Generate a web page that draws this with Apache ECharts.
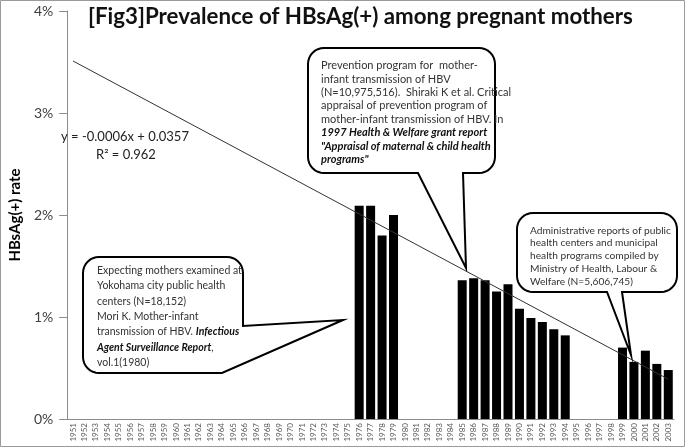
<!DOCTYPE html>
<html>
<head>
<meta charset="utf-8">
<script src="https://cdn.jsdelivr.net/npm/echarts@6/dist/echarts.min.js"></script>
<style>
html,body{margin:0;padding:0;background:#fff;}
#c{width:685px;height:447px;}
</style>
</head>
<body>
<div id="c"></div>
<script>
var years = ['1951','1952','1953','1954','1955','1956','1957','1958','1959','1960',
  '1961','1962','1963','1964','1965','1966','1967','1968','1969','1970',
  '1971','1972','1973','1974','1975','1976','1977','1978','1979','1980',
  '1981','1982','1983','1984','1985','1986','1987','1988','1989','1990',
  '1991','1992','1993','1994','1995','1996','1997','1998','1999','2000',
  '2001','2002','2003'];
var barYears = ['1976','1977','1978','1979',
  '1985','1986','1987','1988','1989','1990','1991','1992','1993','1994',
  '1999','2000','2001','2002','2003'];
var barValues = [2.09, 2.09, 1.80, 2.00,
  1.36, 1.38, 1.36, 1.25, 1.32, 1.08, 0.99, 0.95, 0.88, 0.82,
  0.70, 0.56, 0.67, 0.54, 0.48];
var trendYears = ['1951', '2003'];
var trendValues = [3.51, 0.39];
var yTicks = [0, 1, 2, 3, 4];

var FONT = 'Lato';
var barData = years.map(function (y) {
  var i = barYears.indexOf(y);
  return i >= 0 ? barValues[i] : null;
});
var trendData = years.map(function (y) {
  var i = trendYears.indexOf(y);
  return i >= 0 ? trendValues[i] : null;
});

function arc(pts, cx, cy, r, a0, a1) {
  var n = 8;
  for (var k = 0; k <= n; k++) {
    var a = (a0 + (a1 - a0) * k / n) * Math.PI / 180;
    pts.push([cx + r * Math.cos(a), cy + r * Math.sin(a)]);
  }
}
function bubbleBottom(x, y, w, h, r, p1, p2, tx, ty) {
  var pts = [];
  arc(pts, x + r, y + r, r, 180, 270);
  arc(pts, x + w - r, y + r, r, 270, 360);
  arc(pts, x + w - r, y + h - r, r, 0, 90);
  pts.push([p2, y + h], [tx, ty], [p1, y + h]);
  arc(pts, x + r, y + h - r, r, 90, 180);
  return pts;
}
function bubbleRight(x, y, w, h, r, py, tx, ty, bx) {
  var pts = [];
  arc(pts, x + r, y + r, r, 180, 270);
  arc(pts, x + w - r, y + r, r, 270, 360);
  pts.push([x + w, py], [tx, ty], [bx, y + h]);
  arc(pts, x + r, y + h - r, r, 90, 180);
  return pts;
}
function bubbleText(x, y, lines, lh, fs) {
  return {
    type: 'text', x: x, y: y, z: 20,
    style: {
      text: lines.join('\n'),
      rich: {
        n: {fontFamily: FONT, fontSize: fs, fill: '#333', lineHeight: lh},
        b: {fontFamily: FONT, fontSize: fs, fill: '#111', fontWeight: 'bold', fontStyle: 'italic', lineHeight: lh}
      },
      fill: '#333', fontFamily: FONT, fontSize: fs
    }
  };
}

var chart = echarts.init(document.getElementById('c'), null, {renderer: 'canvas'});
chart.setOption({
  animation: false,
  backgroundColor: '#fff',
  grid: {left: 57, right: 11, top: 11, bottom: 28, containLabel: false},
  xAxis: {
    type: 'category', data: years,
    axisLine: {lineStyle: {color: '#8c8c8c', width: 1}},
    axisTick: {show: false},
    axisLabel: {interval: 0, rotate: 90, fontSize: 8, color: '#595959', margin: 4, fontFamily: FONT}
  },
  yAxis: {
    type: 'value', min: yTicks[0], max: yTicks[yTicks.length - 1], interval: 1,
    name: 'HBsAg(+) rate', nameLocation: 'middle', nameGap: 32,
    nameTextStyle: {fontFamily: FONT, fontWeight: 'bold', fontSize: 15, color: '#000'},
    axisLine: {show: true, lineStyle: {color: '#8c8c8c'}},
    axisTick: {show: true, length: 8, lineStyle: {color: '#8c8c8c'}},
    splitLine: {show: false},
    axisLabel: {formatter: '{value}%', fontSize: 14, color: '#404040', margin: 14, fontFamily: FONT}
  },
  series: [
    {
      type: 'bar', data: barData, barWidth: 9,
      itemStyle: {color: '#000'}, z: 2
    },
    {
      type: 'line', data: trendData, connectNulls: true, showSymbol: false, symbol: 'none',
      lineStyle: {color: '#333', width: 1}, z: 3
    }
  ],
  graphic: [
    {type: 'rect', shape: {x: 0.5, y: 0.5, width: 684, height: 446},
     style: {fill: 'none', stroke: '#9a9a9a', lineWidth: 1}, z: 0, silent: true},
    {type: 'text', x: 88, y: 6, z: 20,
     style: {text: '[Fig3]Prevalence of HBsAg(+) among pregnant mothers',
       fontFamily: FONT, fontWeight: 'bold', fontSize: 22.3, fill: '#111'}},
    {type: 'text', x: 61, y: 130, z: 20,
     style: {text: 'y = -0.0006x + 0.0357', fontFamily: FONT, fontSize: 13, fill: '#222'}},
    {type: 'text', x: 96, y: 148, z: 20,
     style: {text: 'R² = 0.962', fontFamily: FONT, fontSize: 13, fill: '#222'}},
    {type: 'polygon', z: 15,
     shape: {points: bubbleRight(83, 257, 160, 116, 16, 326, 343, 320, 222)},
     style: {fill: '#fff', stroke: '#000', lineWidth: 2}},
    bubbleText(97, 263, [
      '{n|Expecting mothers examined at}',
      '{n|Yokohama city public health}',
      '{n|centers (N=18,152)}',
      '{n|Mori K. Mother-infant}',
      '{n|transmission of HBV. }{b|Infectious}',
      '{b|Agent Surveillance Report}{n|,}',
      '{n|vol.1(1980)}'
    ], 15.3, 10.5),
    {type: 'polygon', z: 15,
     shape: {points: bubbleBottom(308, 48, 187, 125, 16, 418, 463, 466, 268)},
     style: {fill: '#fff', stroke: '#000', lineWidth: 2}},
    bubbleText(321, 59, [
      '{n|Prevention program for  mother-}',
      '{n|infant transmission of HBV}',
      '{n|(N=10,975,516).  Shiraki K et al. Critical}',
      '{n|appraisal of prevention program of}',
      '{n|mother-infant transmission of HBV. In}',
      '{b|1997 Health & Welfare grant report}',
      '{b|"Appraisal of maternal & child health}',
      '{b|programs"}'
    ], 13.4, 11),
    {type: 'polygon', z: 15,
     shape: {points: bubbleBottom(517, 213, 160, 79, 16, 607, 622, 631, 355)},
     style: {fill: '#fff', stroke: '#000', lineWidth: 2}},
    bubbleText(530, 224, [
      '{n|Administrative reports of public}',
      '{n|health centers and municipal}',
      '{n|health programs compiled by}',
      '{n|Ministry of Health, Labour &}',
      '{n|Welfare (N=5,606,745)}'
    ], 12.8, 10.2)
  ]
});
</script>
</body>
</html>
